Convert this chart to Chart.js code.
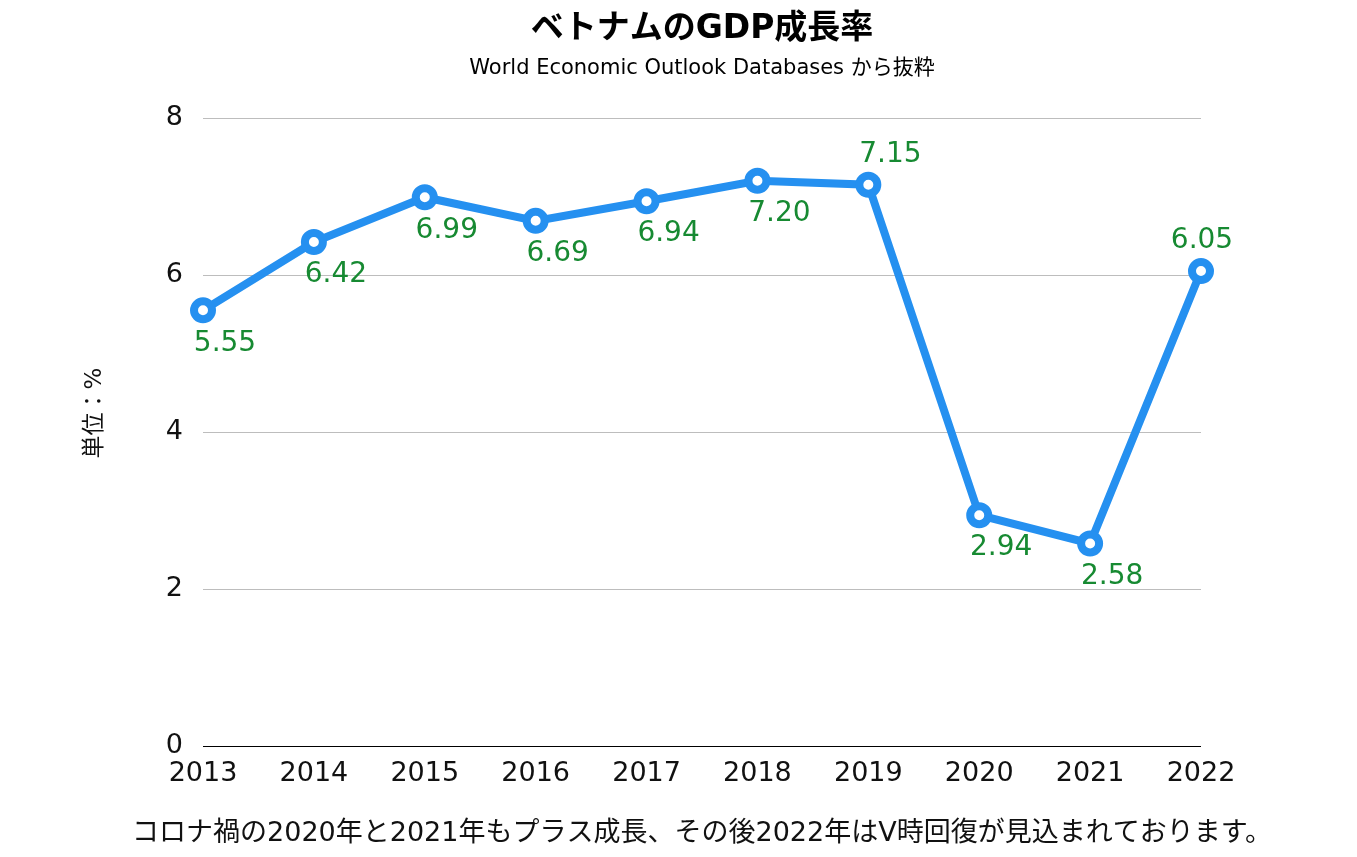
<!DOCTYPE html>
<html>
<head>
<meta charset="utf-8">
<script src="https://cdn.jsdelivr.net/npm/chart.js@4/dist/chart.umd.min.js"></script>
<style>
  html, body { margin: 0; padding: 0; background: #fff; }
  #wrap { width: 1357px; height: 857px; }
</style>
</head>
<body>
<div id="wrap"><canvas id="gdpChart" width="1357" height="857"></canvas></div>
<script>
// data
const years = ['2013', '2014', '2015', '2016', '2017', '2018', '2019', '2020', '2021', '2022'];
const growth = [5.55, 6.42, 6.99, 6.69, 6.94, 7.20, 7.15, 2.94, 2.58, 6.05];
const yTicks = [0, 2, 4, 6, 8];

const titleText = 'ベトナムのGDP成長率';
const subtitleText = 'World Economic Outlook Databases から抜粋';
const yTitleText = '単位：%';
const footerText = 'コロナ禍の2020年と2021年もプラス成長、その後2022年はV時回復が見込まれております。';

// wide latin glyphs first, japanese falls back to Noto CJK
const FONT = '"DejaVu Sans", "Noto Sans CJK JP", sans-serif';

// titles, axis title, footer and value labels
const decorPlugin = {
    id: 'decor',
    afterDatasetsDraw(chart) {
        const { ctx, chartArea } = chart;
        const cx = (chartArea.left + chartArea.right) / 2;
        ctx.save();
        ctx.textAlign = 'center';
        ctx.textBaseline = 'middle';
        ctx.fillStyle = '#000';

        ctx.font = 'bold 33px ' + FONT;
        ctx.fillText(titleText, cx, 29);
        ctx.font = '400 21px ' + FONT;
        ctx.fillText(subtitleText, cx, 69);
        ctx.font = '400 27px ' + FONT;
        ctx.fillStyle = '#111';
        ctx.fillText(footerText, cx, 834);

        ctx.save();
        ctx.translate(95, 413);
        ctx.rotate(-Math.PI / 2);
        ctx.font = '400 23px ' + FONT;
        ctx.fillText(yTitleText, 0, 0);
        ctx.restore();

        // value labels
        const meta = chart.getDatasetMeta(0);
        ctx.font = '400 28px ' + FONT;
        ctx.fillStyle = '#178a32';
        meta.data.forEach((pt, i) => {
            const last = i === meta.data.length - 1;
            const above = i === 6 || last;
            const dx = last ? 1 : 22;
            const dy = above ? -30 : 33;
            ctx.fillText(growth[i].toFixed(2), pt.x + dx, pt.y + dy);
        });
        ctx.restore();
    }
};

new Chart(document.getElementById('gdpChart'), {
    type: 'line',
    data: {
        labels: years,
        datasets: [{
            data: growth,
            borderColor: '#2590f0',
            borderWidth: 8,
            pointRadius: 9,
            pointHoverRadius: 9,
            pointBorderWidth: 8,
            pointBackgroundColor: '#fff',
            pointBorderColor: '#2590f0',
            tension: 0
        }]
    },
    options: {
        responsive: false,
        animation: false,
        layout: { padding: { top: 118, right: 156, left: 0, bottom: 0 } },
        plugins: { legend: { display: false }, tooltip: { enabled: false } },
        scales: {
            x: {
                offset: false,
                grid: { display: false, drawTicks: false },
                border: { display: false },
                ticks: { color: '#111', padding: 12, font: { family: FONT, size: 27 } },
                afterFit(scale) { scale.height = 111; }
            },
            y: {
                min: 0,
                max: 8,
                afterBuildTicks(scale) { scale.ticks = yTicks.map(v => ({ value: v })); },
                grid: {
                    drawTicks: false,
                    color: ctx => ctx.tick.value === 0 ? '#000' : '#bdbdbd',
                    lineWidth: 1
                },
                border: { display: false },
                ticks: { color: '#111', padding: 20, font: { family: FONT, size: 27 } },
                afterFit(scale) { scale.width = 203; }
            }
        }
    },
    plugins: [decorPlugin]
});
</script>
</body>
</html>
